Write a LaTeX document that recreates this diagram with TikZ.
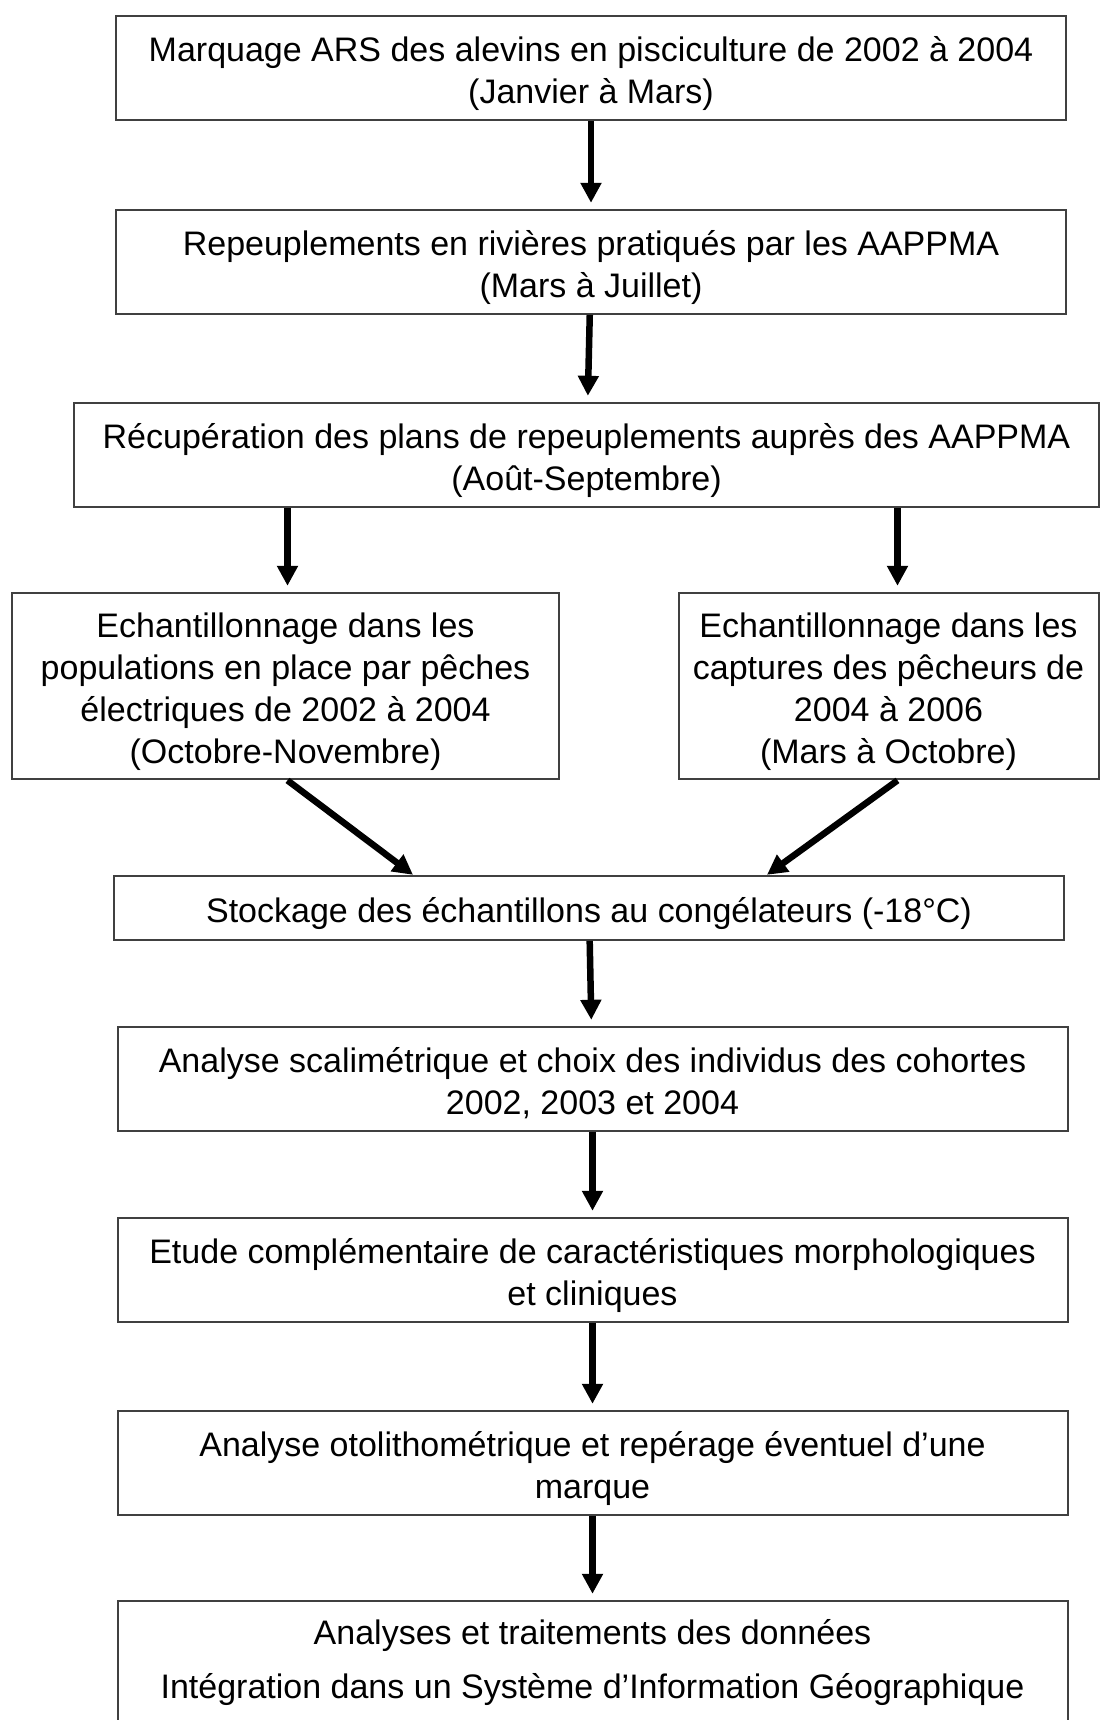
\documentclass[tikz,border=0pt]{standalone}
\usepackage{fontspec}
\setmainfont{Liberation Sans}
\usepackage{tikz}
\usetikzlibrary{arrows.meta, positioning, calc}

\begin{document}
\begin{tikzpicture}[node distance=42.5pt,
    box/.style={draw=black!75, line width=1pt, rectangle, align=center, inner sep=0pt,
        font=\fontsize{17pt}{21pt}\selectfont, minimum width=475pt, minimum height=52pt,
        text height=18.7pt, text depth=4.5pt},
    twoline/.style={text height=39.7pt},
    fourline/.style={text height=81.7pt},
    flow/.style={line width=3.25pt, -{Triangle[width=10pt,length=10pt]}, shorten >=3pt}]
    \useasboundingbox (0,0) rectangle (550pt,-860pt);

    % Steps
    \node[box, twoline] (marq) at (295.5pt,-33.9pt)
        {Marquage ARS des alevins en pisciculture de 2002 à 2004\\(Janvier à Mars)};
    \node[box, twoline, below=44pt of marq] (repeup)
        {Repeuplements en rivières pratiqués par les AAPPMA\\(Mars à Juillet)};
    \node[box, twoline, minimum width=512.5pt, below=43.5pt of repeup, xshift=-2.25pt] (recup)
        {Récupération des plans de repeuplements auprès des AAPPMA\\(Août-Septembre)};
    \node[box, fourline, minimum width=273.5pt, minimum height=93.3pt, below=42pt of recup, xshift=-150.5pt] (echel)
        {Echantillonnage dans les\\populations en place par pêches\\électriques de 2002 à 2004\\(Octobre-Novembre)};
    \node[box, fourline, minimum width=210pt, minimum height=93.3pt, below=42pt of recup, xshift=151pt] (echcap)
        {Echantillonnage dans les\\captures des pêcheurs de\\2004 à 2006\\(Mars à Octobre)};
    \coordinate (mid) at ($(echel.south)!0.5!(echcap.south)$);
    \coordinate (elin) at ([xshift=1pt]echel.north);
    \coordinate (elout) at ([xshift=1pt]echel.south);
    \coordinate (capin) at ([xshift=4.5pt]echcap.north);
    \coordinate (capout) at ([xshift=4.5pt]echcap.south);
    \node[box, minimum height=32pt, below=47.2pt of mid, xshift=1pt] (stock)
        {Stockage des échantillons au congélateurs (-18°C)};
    \node[box, twoline, below=of stock, xshift=1.75pt] (scali)
        {Analyse scalimétrique et choix des individus des cohortes\\2002, 2003 et 2004};
    \node[box, twoline, below=of scali] (etude)
        {Etude complémentaire de caractéristiques morphologiques\\et cliniques};
    \node[box, twoline, below=43.5pt of etude] (otol)
        {Analyse otolithométrique et repérage éventuel d’une\\marque};
    \node[box, minimum height=66pt, text height=36.5pt, below=42pt of otol] (analyse)
        {Analyses et traitements des données\\[6pt]Intégration dans un Système d’Information Géographique};

    % Arrows
    \draw[flow] (marq) -- (repeup);
    \draw[flow] (repeup) -- (recup);
    \draw[flow] (recup.south -| elin) -- (elin);
    \draw[flow] (recup.south -| capin) -- (capin);
    \draw[flow, shorten >=0pt] (elout) -- ([xshift=-88pt]stock.north);
    \draw[flow, shorten >=0pt] (capout) -- ([xshift=89pt]stock.north);
    \draw[flow] (stock) -- (scali);
    \draw[flow] (scali) -- (etude);
    \draw[flow] (etude) -- (otol);
    \draw[flow] (otol) -- (analyse);
\end{tikzpicture}
\end{document}
